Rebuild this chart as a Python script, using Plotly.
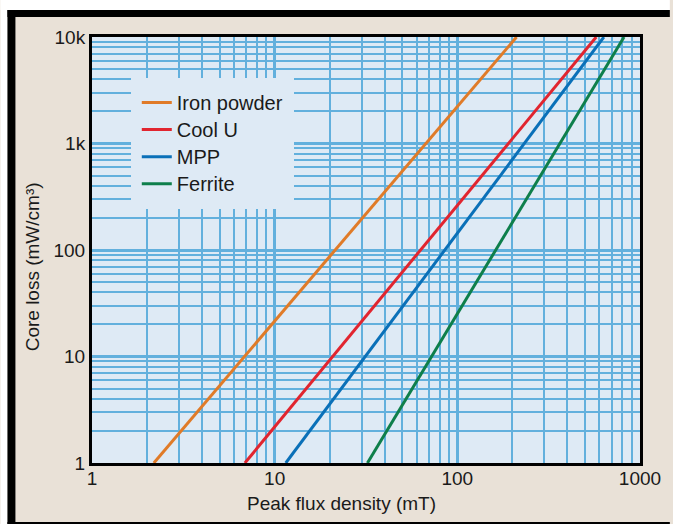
import plotly.graph_objects as go

# ---- data ----
series_names = ["Iron powder", "Cool U", "MPP", "Ferrite"]
iron_b = [2.18, 211]
iron_p = [1, 10000]
coolu_b = [6.87, 576]
coolu_p = [1, 10000]
mpp_b = [11.5, 634]
mpp_p = [1, 10000]
ferrite_b = [32.2, 818]
ferrite_p = [1, 10000]
series_colors = ["#e07b28", "#e1252f", "#0a70b8", "#0e7f4b"]

x_tickvals = [1, 10, 100, 1000]
x_ticktext = ["1", "10", "100", "1000"]
y_tickvals = [1, 10, 100, 1000, 10000]
y_ticktext = ["1", "10", "100", "1k", "10k"]

x_title = "Peak flux density (mT)"
y_title = "Core loss (mW/cm³)"

# ---- style ----
W, H = 673, 524
ML, MR, MT, MB = 92, 30, 37, 61
PW, PH = W - ML - MR, H - MT - MB
FONT = "Liberation Sans, Arial, Helvetica, sans-serif"
BEIGE = "#e9e1d7"
PLOTBG = "#deeaf5"
GRID = "#62b0dd"
TXT = "#1a1a1a"


def px(x):
    return (x - ML) / PW


def py(y):
    return (H - MB - y) / PH


minor_vals = [k * 10 ** d for d in range(4) for k in range(2, 10)]

fig = go.Figure()
for name, xs, ys, col in zip(series_names,
                             [iron_b, coolu_b, mpp_b, ferrite_b],
                             [iron_p, coolu_p, mpp_p, ferrite_p],
                             series_colors):
    fig.add_trace(go.Scatter(
        x=xs, y=ys, mode="lines",
        name='<span style="font-size:20px">' + name + "</span>",
        line=dict(color=col, width=3),
    ))

axis_common = dict(
    showline=True, linecolor="black", linewidth=3, mirror=True,
    showgrid=True, gridcolor=GRID, gridwidth=3,
    zeroline=False, ticks="",
    tickfont=dict(family=FONT, size=19, color=TXT),
    minor=dict(tickmode="array", tickvals=minor_vals, showgrid=True,
               gridcolor=GRID, gridwidth=2, ticks=""),
)

fig.update_xaxes(type="log", range=[0, 3], tickmode="array",
                 tickvals=x_tickvals, ticktext=x_ticktext,
                 ticklabelstandoff=-4, **axis_common)
fig.update_yaxes(type="log", range=[0, 4], tickmode="array",
                 tickvals=y_tickvals, ticktext=y_ticktext, **axis_common)

shapes = [
    # white outside area
    dict(type="rect", xref="paper", yref="paper", x0=px(0), x1=px(W), y0=py(0), y1=py(10),
         fillcolor="white", line=dict(width=0), layer="above"),
    dict(type="rect", xref="paper", yref="paper", x0=px(0), x1=px(7), y0=py(0), y1=py(H),
         fillcolor="white", line=dict(width=0), layer="above"),
    # black frame
    dict(type="rect", xref="paper", yref="paper", x0=px(7), x1=px(W), y0=py(10), y1=py(17),
         fillcolor="black", line=dict(width=0), layer="above"),
    dict(type="rect", xref="paper", yref="paper", x0=px(7), x1=px(15), y0=py(10), y1=py(H),
         fillcolor="black", line=dict(width=0), layer="above"),
    dict(type="rect", xref="paper", yref="paper", x0=px(7), x1=px(W), y0=py(522), y1=py(H),
         fillcolor="black", line=dict(width=0), layer="above"),
]

annotations = [
    dict(text=x_title, xref="paper", yref="paper", x=px(343), y=py(503),
         xanchor="center", yanchor="middle", showarrow=False,
         font=dict(family=FONT, size=19, color=TXT)),
    dict(text=y_title, xref="paper", yref="paper", x=px(32), y=py(267),
         xanchor="center", yanchor="middle", showarrow=False, textangle=-90,
         font=dict(family=FONT, size=19, color=TXT)),
]

fig.update_layout(
    width=W, height=H,
    margin=dict(l=ML, r=MR, t=MT, b=MB, pad=0),
    paper_bgcolor=BEIGE, plot_bgcolor=PLOTBG,
    font=dict(family=FONT, color=TXT),
    showlegend=True,
    legend=dict(x=px(131), y=py(78), xanchor="left", yanchor="top",
                bgcolor=PLOTBG, bordercolor=PLOTBG, borderwidth=6,
                font=dict(family=FONT, size=18.5, color=TXT),
                tracegroupgap=0),
    shapes=shapes,
    annotations=annotations,
)

fig.write_html(
    "out.html",
    config={"displayModeBar": False},
    post_script="document.body.style.margin='0';document.body.style.overflow='hidden';",
)
